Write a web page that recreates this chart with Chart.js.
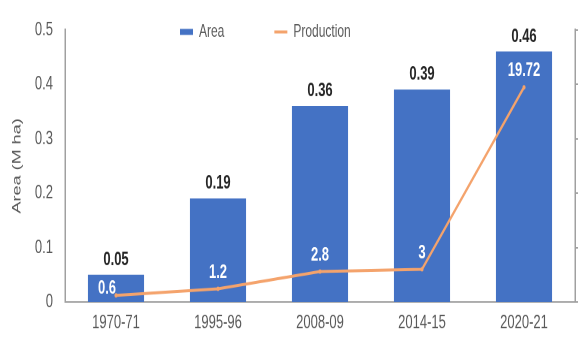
<!DOCTYPE html>
<html>
<head>
<meta charset="utf-8">
<script src="https://cdn.jsdelivr.net/npm/chart.js@4.4.1/dist/chart.umd.min.js"></script>
<style>
  html, body { margin: 0; padding: 0; background: #ffffff; }
  #outer { width: 579px; height: 338px; overflow: hidden; position: relative; }
  #wrap { position: absolute; left: 0; top: 0; width: 579px; height: 225px; transform: scale(1, 1.5022); transform-origin: 0 0; }
</style>
</head>
<body>
<div id="outer"><div id="wrap"><canvas id="c" width="579" height="225"></canvas></div></div>
<script>
const categories = ['1970-71', '1995-96', '2008-09', '2014-15', '2020-21'];
const areaValues = [0.05, 0.19, 0.36, 0.39, 0.46];
const productionValues = [0.6, 1.2, 2.8, 3, 19.72];
const seriesNames = ['Area', 'Production'];
const yAxisTitle = 'Area (M ha)';

const FONT = '"Liberation Sans", Arial, sans-serif';
const BLUE = '#4472C4';
const ORANGE = '#F4A36C';
const GREY_TEXT = '#595959';
const AXIS = '#A0A0A0';

const valueLabels = {
  id: 'valueLabels',
  afterDatasetsDraw(chart) {
    const ctx = chart.ctx;
    const barMeta = chart.getDatasetMeta(0);
    const lineMeta = chart.getDatasetMeta(1);
    ctx.save();
    ctx.textAlign = 'center';
    ctx.textBaseline = 'middle';
    ctx.font = 'bold 13px ' + FONT;
    ctx.fillStyle = '#262626';
    barMeta.data.forEach((bar, i) => {
      ctx.fillText(areaValues[i].toFixed(2), bar.x, bar.y - 10);
    });
    ctx.fillStyle = '#ffffff';
    lineMeta.data.forEach((pt, i) => {
      const bar = barMeta.data[i];
      const clamped = pt.y - 11 < bar.y + 9;
      const y = clamped ? bar.y + 9 : pt.y - 11;
      ctx.fillText(String(productionValues[i]), clamped ? pt.x - 9 : pt.x, y);
    });
    ctx.restore();
  }
};

// legend drawn over the plot area (it takes no layout space)
const legendPlace = {
  id: 'legendPlace',
  afterInit(chart) {
    const lg = chart.legend;
    const origFit = lg.fit.bind(lg);
    lg.fit = function () { origFit(); this.height = 0; };
  },
  afterLayout(chart) {
    const lg = chart.legend;
    const pad = lg.options.labels.padding;
    const w = lg.right - lg.left;
    lg.left = 180 - pad; lg.right = lg.left + w;
    lg.top = 15.3 - pad; lg.bottom = lg.top + 2 * pad + 20;
  }
};

new Chart(document.getElementById('c'), {
  data: {
    labels: categories,
    datasets: [
      {
        type: 'bar',
        label: seriesNames[0],
        data: areaValues,
        backgroundColor: BLUE,
        borderWidth: 0,
        categoryPercentage: 1,
        barPercentage: 0.55,
        yAxisID: 'y',
        order: 2
      },
      {
        type: 'line',
        label: seriesNames[1],
        data: productionValues,
        borderColor: ORANGE,
        backgroundColor: ORANGE,
        borderWidth: 2,
        pointRadius: 1.5,
        pointBorderWidth: 0,
        tension: 0,
        yAxisID: 'y2',
        order: 1
      }
    ]
  },
  options: {
    responsive: false,
    animation: false,
    devicePixelRatio: 2,
    layout: { padding: { top: 17, left: 0, right: 0, bottom: 0 } },
    plugins: {
      tooltip: { enabled: false },
      legend: {
        position: 'top',
        align: 'start',
        labels: {
          color: GREY_TEXT,
          font: { family: FONT, size: 12 },
          usePointStyle: true,
          boxWidth: 13,
          boxHeight: 4,
          pointStyleWidth: 13,
          padding: 50,
          generateLabels(chart) {
            const items = Chart.defaults.plugins.legend.labels.generateLabels(chart);
            items.sort((a, b) => a.datasetIndex - b.datasetIndex);
            items.forEach(it => {
              if (it.datasetIndex === 0) { it.pointStyle = 'rect'; it.lineWidth = 0; }
              else { it.pointStyle = 'line'; it.lineWidth = 2; it.strokeStyle = ORANGE; }
            });
            return items;
          }
        }
      }
    },
    scales: {
      x: {
        offset: true,
        grid: { display: false, drawTicks: false },
        border: { display: true, color: AXIS, width: 1 },
        ticks: { color: GREY_TEXT, font: { family: FONT, size: 13 }, padding: 6, maxRotation: 0 },
        afterFit(s) { s.height = 24; }
      },
      y: {
        position: 'left',
        min: 0, max: 0.5,
        grid: { display: false, drawTicks: false },
        border: { display: true, color: AXIS, width: 1.5 },
        ticks: { stepSize: 0.1, color: GREY_TEXT, font: { family: FONT, size: 13 }, padding: 12 },
        title: { display: true, text: yAxisTitle, color: GREY_TEXT, font: { family: FONT, size: 12 }, padding: { top: 10, bottom: 0 } },
        afterFit(s) { s.width = 65; }
      },
      y2: {
        position: 'right',
        min: 0, max: 25,
        grid: { display: true, drawOnChartArea: false, drawTicks: true, tickLength: 3, color: AXIS },
        border: { display: true, color: AXIS, width: 1.5 },
        ticks: { display: false, stepSize: 5 },
        afterFit(s) { s.width = 3; }
      }
    }
  },
  plugins: [valueLabels, legendPlace]
});
</script>
</body>
</html>
